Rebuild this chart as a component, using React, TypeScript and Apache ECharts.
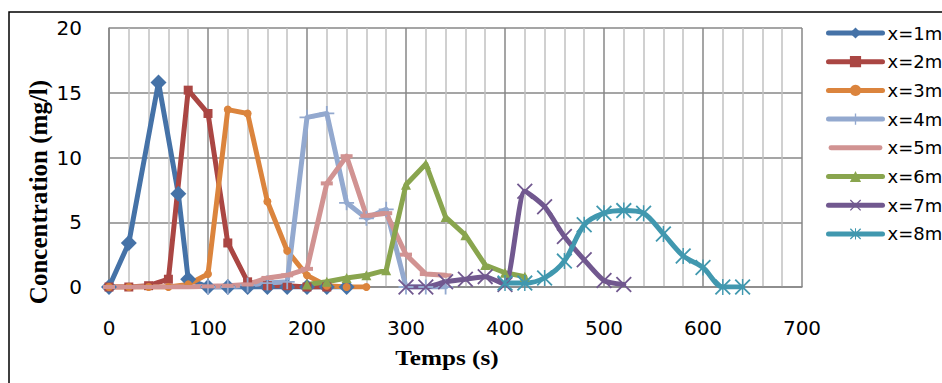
import React, { useEffect, useRef } from "react";
import * as echarts from "echarts";

const seriesNames = ["x=1m", "x=2m", "x=3m", "x=4m", "x=5m", "x=6m", "x=7m", "x=8m"];
const colors = ["#4572A7", "#AA4643", "#DB843D", "#93A9CF", "#D19392", "#89A54E", "#71588F", "#4198AF"];

const t1 = [0, 20, 50, 70, 80, 100, 120, 140, 160, 180, 200, 220, 240];
const c1 = [0, 3.4, 15.8, 7.2, 0.6, 0, 0, 0, 0, 0, 0, 0, 0];

const t2 = [0, 20, 40, 60, 80, 100, 120, 140, 160, 180, 200, 220];
const c2 = [0, 0, 0.1, 0.6, 15.2, 13.4, 3.4, 0.4, 0.1, 0.1, 0, 0];

const t3 = [0, 20, 40, 60, 80, 100, 120, 140, 160, 180, 200, 220, 240, 260];
const c3 = [0, 0, 0, 0, 0.2, 1.0, 13.7, 13.4, 6.6, 2.8, 0.9, 0.1, 0, 0];

const t4 = [100, 120, 140, 160, 180, 200, 220, 240, 260, 280, 300, 320, 340];
const c4 = [0, 0, 0.15, 0.3, 0.4, 13.1, 13.4, 6.5, 5.3, 6.0, 0, 0, 0];

const t5 = [0, 20, 40, 60, 80, 100, 120, 140, 160, 180, 200, 220, 240, 260, 280, 300, 320, 340];
const c5 = [0, 0, 0, 0, 0, 0.05, 0.1, 0.2, 0.7, 0.9, 1.4, 8.0, 10.1, 5.5, 5.7, 2.5, 1.0, 0.9];

const t6 = [200, 220, 240, 260, 280, 300, 320, 340, 360, 380, 400, 420];
const c6 = [0.2, 0.4, 0.7, 0.9, 1.3, 7.9, 9.5, 5.4, 4.0, 1.7, 1.1, 0.8];

const t7 = [300, 320, 340, 360, 380, 400, 420, 440, 460, 480, 500, 520];
const c7 = [0, 0, 0.4, 0.6, 0.8, 0.2, 7.4, 6.2, 3.9, 2.1, 0.5, 0.2];

const t8 = [400, 420, 440, 460, 480, 500, 520, 540, 560, 580, 600, 620, 640];
const c8 = [0.3, 0.3, 0.7, 2.0, 4.8, 5.7, 5.9, 5.7, 4.1, 2.4, 1.5, 0, 0];

const xTicks = { min: 0, max: 700, interval: 100 };
const yTicks = { min: 0, max: 20, interval: 5 };

const PLUS = "path://M4.4,0H5.6V4.4H10V5.6H5.6V10H4.4V5.6H0V4.4H4.4Z";
const CROSS = "path://M0,0.8L0.8,0L10,9.2L9.2,10ZM9.2,0L10,0.8L0.8,10L0,9.2Z";
const STAR = "path://M0,0.8L0.8,0L10,9.2L9.2,10ZM9.2,0L10,0.8L0.8,10L0,9.2ZM4.55,0H5.45V10H4.55Z";
const LINE_ICON = "path://M0,0H0.01V0.01H0ZM0,13.99H0.01V14H0ZM2,4.5H52A2.5,2.5,0,0,1,52,9.5H2A2.5,2.5,0,0,1,2,4.5Z";

const times = [t1, t2, t3, t4, t5, t6, t7, t8];
const concs = [c1, c2, c3, c4, c5, c6, c7, c8];
const symbols = ["diamond", "rect", "circle", PLUS, "rect", "triangle", CROSS, STAR];
const symbolSizes: any[] = [16, 9, 8, 15, [12, 4], 10, 16, 16];
const smooths = [false, false, false, false, false, false, 0.2, 0.3];

export default function App() {
  const ref = useRef<HTMLDivElement>(null);
  useEffect(() => {
    if (!ref.current) return;
    const chart = echarts.init(ref.current, null, { renderer: "svg" });
    const tickFont = { fontFamily: "DejaVu Sans", fontSize: 20, color: "#000" };
    chart.setOption({
      animation: false,
      backgroundColor: "#fff",
      grid: { left: 109, right: 140, top: 28, bottom: 96, containLabel: false },
      xAxis: {
        type: "value",
        min: xTicks.min,
        max: xTicks.max,
        interval: xTicks.interval,
        axisLine: { show: true, lineStyle: { color: "#878787", width: 1.5 } },
        axisTick: { show: false },
        axisLabel: { ...tickFont, margin: 31 },
        splitLine: { show: true, lineStyle: { color: "#878787", width: 1.5 } },
        minorTick: { show: false, splitNumber: 5 },
        minorSplitLine: { show: true, lineStyle: { color: "#C0C0C0", width: 1.5 } },
      },
      yAxis: {
        type: "value",
        min: yTicks.min,
        max: yTicks.max,
        interval: yTicks.interval,
        axisLine: { show: true, lineStyle: { color: "#878787", width: 1.5 } },
        axisTick: { show: false },
        axisLabel: { ...tickFont, margin: 27 },
        splitLine: { show: true, lineStyle: { color: "#878787", width: 1.5 } },
      },
      legend: {
        orient: "vertical",
        left: 821,
        top: 18,
        itemWidth: 54,
        itemHeight: 14,
        itemGap: 8.7,
        lineStyle: { width: 5, cap: "round" },
        textStyle: { fontFamily: "DejaVu Sans", fontSize: 18, color: "#000", lineHeight: 20 },
        data: seriesNames.map((name) =>
          name === "x=5m" ? { name, icon: LINE_ICON } : { name }
        ),
      },
      graphic: [
        {
          type: "rect",
          shape: { x: 9, y: 12, width: 940, height: 380 },
          style: { fill: "none", stroke: "#000", lineWidth: 1.5 },
          silent: true,
        },
        {
          type: "text",
          x: 38,
          y: 192,
          rotation: Math.PI / 2,
          style: {
            text: "Concentration (mg/l)",
            font: "bold 25px 'Liberation Serif'",
            fill: "#000",
            align: "center",
            verticalAlign: "middle",
          },
        },
        {
          type: "text",
          x: 447,
          y: 358,
          scaleX: 1.2,
          style: {
            text: "Temps (s)",
            font: "bold 21px 'Liberation Serif'",
            fill: "#000",
            align: "center",
            verticalAlign: "middle",
          },
        },
      ],
      series: seriesNames.map((name, i) => ({
        name,
        type: "line",
        data: times[i].map((t, j) => [t, concs[i][j]]),
        symbol: symbols[i],
        symbolSize: symbolSizes[i],
        showAllSymbol: true,
        smooth: smooths[i],
        lineStyle: { color: colors[i], width: 5, cap: "round", join: "round" },
        itemStyle: { color: colors[i], borderWidth: 0 },
      })),
    });
    return () => chart.dispose();
  }, []);
  return (
    <div
      ref={ref}
      style={{ position: "absolute", left: 0, top: 0, width: 942, height: 383 }}
    />
  );
}
